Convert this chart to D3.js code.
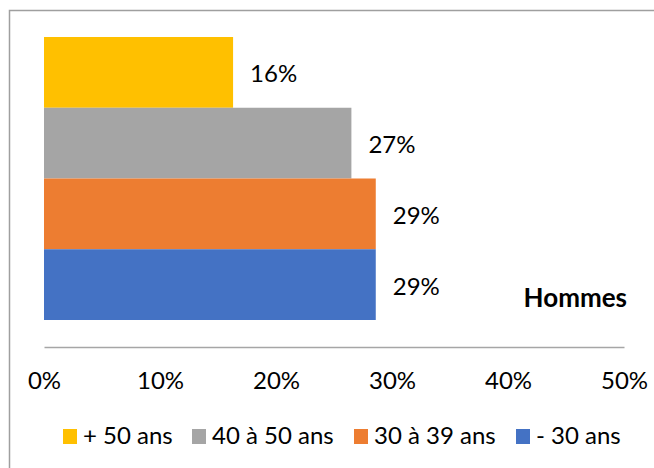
<!DOCTYPE html>
<html>
<head>
<meta charset="utf-8">
<script src="https://cdn.jsdelivr.net/npm/d3@7"></script>
<style>
  html, body { margin: 0; padding: 0; background: #fff; }
  svg { display: block; font-family: Lato, "Open Sans", sans-serif; }
</style>
</head>
<body>
<svg id="chart" width="654" height="468"></svg>
<script>
// Age groups (top to bottom) and their share among men
const groups = ["+ 50 ans", "40 à 50 ans", "30 à 39 ans", "- 30 ans"];
const shares = [0.163, 0.265, 0.286, 0.286];
const colors = ["#FFC000", "#A5A5A5", "#ED7D31", "#4472C4"];
const tickValues = [0, 0.1, 0.2, 0.3, 0.4, 0.5];
const categoryLabel = "Hommes";

const svg = d3.select("#chart");
const pct = d3.format(".0%");

// Chart frame
svg.append("rect")
  .attr("x", 9.5).attr("y", 10.5)
  .attr("width", 700).attr("height", 500)
  .attr("fill", "none")
  .attr("stroke", "#9f9f9f")
  .attr("stroke-width", 1.5);

const x = d3.scaleLinear().domain([0, 0.5]).range([44, 624]);
const y = d3.scaleBand().domain(groups).range([37, 320]).padding(0);

const data = groups.map((g, i) => ({ group: g, value: shares[i], color: colors[i] }));

// Bars
svg.append("g").selectAll("rect")
  .data(data)
  .join("rect")
  .attr("x", x(0))
  .attr("y", d => y(d.group))
  .attr("width", d => x(d.value) - x(0))
  .attr("height", y.bandwidth())
  .attr("fill", d => d.color);

// Value labels
svg.append("g").selectAll("text")
  .data(data)
  .join("text")
  .attr("x", d => x(d.value) + 17)
  .attr("y", d => y(d.group) + y.bandwidth() / 2 + 10)
  .attr("font-size", 24)
  .attr("fill", "#000")
  .text(d => pct(d.value));

// Value axis
const axis = svg.append("g")
  .attr("transform", "translate(0,347)")
  .call(d3.axisBottom(x).tickValues(tickValues).tickFormat(pct).tickSize(0));
axis.select(".domain").attr("stroke", "#a6a6a6").attr("stroke-width", 1.5);
axis.selectAll("text")
  .attr("dy", null)
  .attr("y", 42)
  .attr("font-size", 24)
  .attr("font-family", "Lato, 'Open Sans', sans-serif")
  .attr("fill", "#000");

// Category label
svg.append("text")
  .attr("x", 627).attr("y", 307)
  .attr("text-anchor", "end")
  .attr("font-size", 26)
  .attr("font-weight", "bold")
  .attr("fill", "#000")
  .text(categoryLabel);

// Legend
const legendX = [63, 192, 354, 516];
const legend = svg.append("g").selectAll("g")
  .data(data)
  .join("g")
  .attr("transform", (d, i) => `translate(${legendX[i]},0)`);
legend.append("rect")
  .attr("x", 0).attr("y", 429)
  .attr("width", 14).attr("height", 15)
  .attr("fill", d => d.color);
legend.append("text")
  .attr("x", 20).attr("y", 444)
  .attr("font-size", 24)
  .attr("fill", "#000")
  .text(d => d.group);
</script>
</body>
</html>
